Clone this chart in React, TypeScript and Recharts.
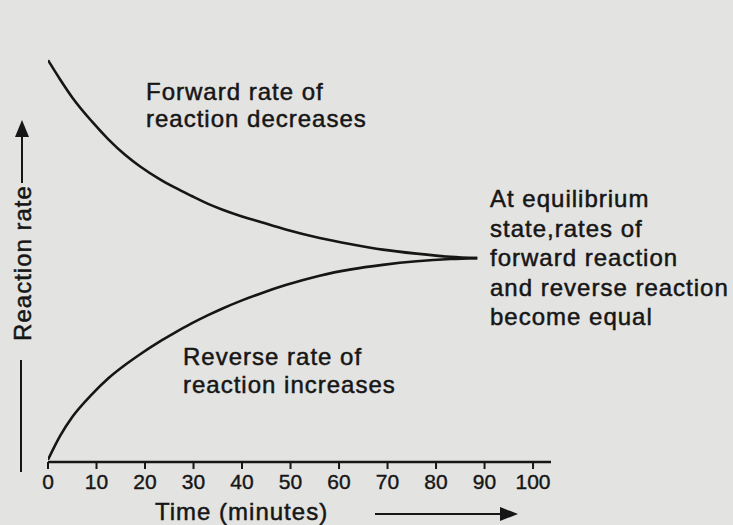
import React from "react";
import { LineChart, Line, XAxis, YAxis } from "recharts";

// time (minutes) sample points
const timePoints = [0, 2.5, 5, 9, 12.5, 16, 19, 23, 26, 29.5, 33, 36, 40, 44, 49, 56, 62.5, 69, 76, 83, 88.5];
const forwardRate = [89.5, 85.2, 81.2, 75.9, 71.8, 68.3, 65.8, 63.0, 61.2, 59.3, 57.5, 56.2, 54.7, 53.4, 51.8, 49.9, 48.5, 47.3, 46.4, 45.7, 45.4];
const reverseRate = [0.5, 5.8, 10.0, 15.0, 18.7, 21.7, 24.0, 26.8, 28.7, 30.8, 32.7, 34.2, 36.0, 37.6, 39.4, 41.5, 42.9, 43.9, 44.7, 45.2, 45.4];
const timeTicks = [0, 10, 20, 30, 40, 50, 60, 70, 80, 90, 100];

const forwardNote = ["Forward rate of", "reaction decreases"];
const reverseNote = ["Reverse rate of", "reaction increases"];
const equilibriumNote = [
  "At equilibrium",
  "state,rates of",
  "forward reaction",
  "and reverse reaction",
  "become equal",
];

const data = timePoints.map((t, i) => ({
  t,
  forward: forwardRate[i],
  reverse: reverseRate[i],
}));

const INK = "#161616";
const FONT = "'Liberation Sans', Arial, sans-serif";

const textStyle = {
  fontFamily: FONT,
  fontSize: 24,
  letterSpacing: 1,
  fill: INK,
  stroke: INK,
  strokeWidth: 0.5,
} as const;

export default function App() {
  return (
    <div
      style={{
        position: "fixed",
        left: 0,
        top: 0,
        width: 733,
        height: 525,
        background: "#e3e3e1",
        overflow: "hidden",
      }}
    >
      <LineChart
        width={733}
        height={525}
        data={data}
        margin={{ top: 13, left: 48, right: 182, bottom: 23 }}
      >
        <XAxis
          dataKey="t"
          type="number"
          domain={[0, 103.7]}
          ticks={timeTicks}
          allowDataOverflow
          height={40}
          axisLine={{ stroke: INK, strokeWidth: 2.6 }}
          tickLine={{ stroke: INK, strokeWidth: 2 }}
          tickSize={7}
          tickMargin={5}
          tick={{ fill: INK, fontSize: 21, fontFamily: FONT, stroke: INK, strokeWidth: 0.4 }}
          interval={0}
        />
        <YAxis
          type="number"
          domain={[0, 100]}
          width={0}
          tick={false}
          tickLine={false}
          axisLine={{ stroke: INK, strokeWidth: 2.6 }}
        />
        <Line
          dataKey="forward"
          type="monotone"
          stroke={INK}
          strokeWidth={2.6}
          dot={false}
          isAnimationActive={false}
        />
        <Line
          dataKey="reverse"
          type="monotone"
          stroke={INK}
          strokeWidth={2.6}
          dot={false}
          isAnimationActive={false}
        />
      </LineChart>

      <svg
        width={733}
        height={525}
        style={{ position: "absolute", left: 0, top: 0, pointerEvents: "none" }}
      >
        {forwardNote.map((s, i) => (
          <text key={s} x={146} y={100 + i * 27} style={textStyle}>
            {s}
          </text>
        ))}
        {reverseNote.map((s, i) => (
          <text key={s} x={183} y={365 + i * 28} style={textStyle}>
            {s}
          </text>
        ))}
        {equilibriumNote.map((s, i) => (
          <text key={s} x={490} y={207 + i * 29.5} style={textStyle}>
            {s}
          </text>
        ))}

        {/* y axis title with arrow */}
        <text
          x={31}
          y={263}
          textAnchor="middle"
          transform="rotate(-90, 31, 263)"
          style={textStyle}
        >
          Reaction rate
        </text>
        <line x1={22} y1={183} x2={22} y2={134} stroke={INK} strokeWidth={2} />
        <polygon points="22,120 15,137 29,137" fill={INK} />
        <line x1={21} y1={360} x2={21} y2={472} stroke={INK} strokeWidth={2} />

        {/* x axis title with arrow */}
        <text x={155} y={520} style={textStyle}>
          Time (minutes)
        </text>
        <line x1={375} y1={514} x2={503} y2={514} stroke={INK} strokeWidth={2} />
        <polygon points="518,514 500,507 500,521" fill={INK} />
      </svg>
    </div>
  );
}
